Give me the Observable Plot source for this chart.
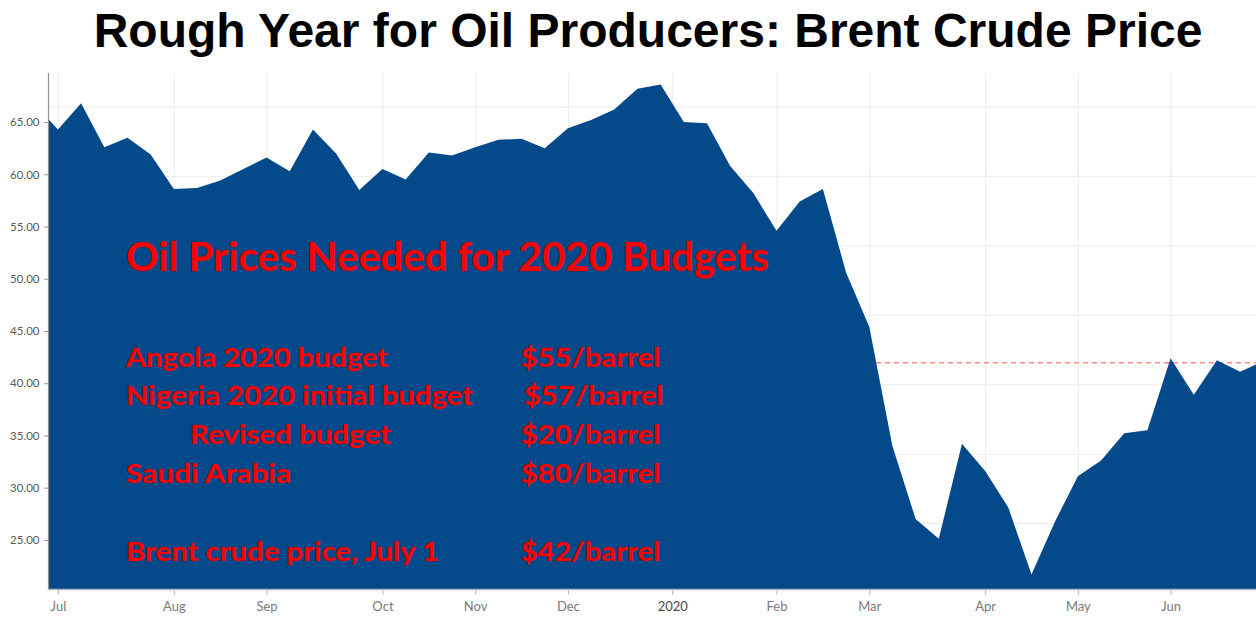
<!DOCTYPE html>
<html>
<head>
<meta charset="utf-8">
<script src="https://cdn.jsdelivr.net/npm/d3@7"></script>
<script src="https://cdn.jsdelivr.net/npm/@observablehq/plot@0.6"></script>
<style>
  html, body { margin: 0; padding: 0; background: #fff; }
  #wrap { position: relative; width: 1256px; height: 622px; overflow: hidden; }
  #title { position: absolute; left: 0; top: 7px; width: 1256px; padding-left: 40px; box-sizing: border-box;
           text-align: center; font: bold 48px/48px "Liberation Sans", Arial, sans-serif; color: #000; white-space: nowrap; }
  #chart { position: absolute; left: 0; top: 62px; }
</style>
</head>
<body>
<div id="wrap">
  <div id="title">Rough Year for Oil Producers: Brent Crude Price</div>
  <div id="chart"></div>
</div>
<script>
// ---- data ----
const weekDates = [
  "2019-06-24","2019-07-01","2019-07-08","2019-07-15","2019-07-22","2019-07-29",
  "2019-08-05","2019-08-12","2019-08-19","2019-08-26","2019-09-02","2019-09-09",
  "2019-09-16","2019-09-23","2019-09-30","2019-10-07","2019-10-14","2019-10-21",
  "2019-10-28","2019-11-04","2019-11-11","2019-11-18","2019-11-25","2019-12-02",
  "2019-12-09","2019-12-16","2019-12-23","2019-12-30","2020-01-06","2020-01-13",
  "2020-01-20","2020-01-27","2020-02-03","2020-02-10","2020-02-17","2020-02-24",
  "2020-03-02","2020-03-09","2020-03-16","2020-03-23","2020-03-30","2020-04-06",
  "2020-04-13","2020-04-20","2020-04-27","2020-05-04","2020-05-11","2020-05-18",
  "2020-05-25","2020-06-01","2020-06-08","2020-06-15","2020-06-22","2020-06-29"
];
const brentPrice = [
  66.7, 64.3, 66.8, 62.6, 63.5, 61.9,
  58.6, 58.7, 59.4, 60.5, 61.6, 60.3,
  64.3, 62.0, 58.5, 60.5, 59.5, 62.1,
  61.8, 62.6, 63.3, 63.4, 62.5, 64.4,
  65.2, 66.2, 68.2, 68.6, 65.0, 64.9,
  60.8, 58.2, 54.6, 57.4, 58.6, 50.6,
  45.4, 34.0, 27.0, 25.1, 34.2, 31.6,
  28.1, 21.7, 26.7, 31.1, 32.6, 35.2,
  35.5, 42.4, 38.9, 42.2, 41.1, 42.1
];
const xTickDates = ["2019-07-01","2019-08-05","2019-09-02","2019-10-07","2019-11-04","2019-12-02",
                    "2020-01-02T12:00","2020-02-03","2020-03-02","2020-04-06","2020-05-04","2020-06-01"];
const xTickLabels = ["Jul","Aug","Sep","Oct","Nov","Dec","2020","Feb","Mar","Apr","May","Jun"];
const yTicks = [25, 30, 35, 40, 45, 50, 55, 60, 65];
const yGridLines = [26.6, 33.25, 39.9, 46.55, 53.2, 59.85, 66.5];
const xDomain = ["2019-06-28", "2020-06-26T19:00"];
const yDomain = [20.3, 69.7];
const julyPrice = 42;

const heading = "Oil Prices Needed for 2020 Budgets";
const budgetNames = ["Angola 2020 budget", "Nigeria 2020 initial budget", "Revised budget", "Saudi Arabia", "Brent crude price, July 1"];
const budgetPrices = ["$55/barrel", "$57/barrel", "$20/barrel", "$80/barrel", "$42/barrel"];

// ---- build ----
const parse = s => new Date(s + (s.includes("T") ? "Z" : "T00:00Z"));
const data = weekDates.map((d, i) => ({date: parse(d), price: brentPrice[i]}));
const ticks = xTickDates.map(parse);
const labelOf = new Map(ticks.map((t, i) => [+t, xTickLabels[i]]));
const monthTicks = ticks.filter(t => !/^\d{4}$/.test(labelOf.get(+t)));
const yearTicks = ticks.filter(t => /^\d{4}$/.test(labelOf.get(+t)));

const chart = Plot.plot({
  width: 1256,
  height: 560,
  marginLeft: 48,
  marginRight: 0,
  marginTop: 11,
  marginBottom: 33,
  style: {fontFamily: "Lato, 'Open Sans', sans-serif", background: "transparent"},
  x: {type: "utc", domain: xDomain.map(parse), label: null},
  y: {domain: yDomain, label: null},
  marks: [
    Plot.ruleX(ticks, {stroke: "#eeeeee", strokeWidth: 1.2}),
    Plot.ruleY(yGridLines, {stroke: "#eeeeee", strokeWidth: 1.2}),
    Plot.ruleY([julyPrice], {stroke: "#ff4d4d", strokeDasharray: "5,4", strokeWidth: 1}),
    Plot.areaY(data, {x: "date", y: "price", fill: "#044a8b", curve: "linear", clip: true}),
    Plot.ruleX([parse(xDomain[0])], {stroke: "#8f8f8f", strokeWidth: 1.2}),
    Plot.ruleY([yDomain[0]], {stroke: "#b4b8c0", strokeWidth: 1.5}),
    Plot.axisY(yTicks, {label: null, tickSize: 4, tickPadding: 5, tickFormat: d3.format(".2f"), fontSize: 11.5, stroke: "#999", fill: "#5a5a5a"}),
    Plot.axisX(monthTicks, {label: null, tickSize: 6, tickPadding: 6, tickFormat: d => labelOf.get(+d), fontSize: 13, stroke: "#bbb", fill: "#7a7a7a"}),
    Plot.axisX(yearTicks, {label: null, tickSize: 6, tickPadding: 6, tickFormat: d => labelOf.get(+d), fontSize: 13, stroke: "#bbb", fill: "#4a4a4a"})
  ]
});
document.getElementById("chart").appendChild(chart);

// ---- red annotation overlay (layout in pixels of the svg) ----
const svg = d3.select(chart);
const g = svg.append("g")
  .attr("font-family", "Lato, 'Open Sans', sans-serif")
  .attr("font-weight", 700)
  .attr("text-anchor", "start")
  .attr("fill", "#ff0000")
  .attr("stroke", "rgba(120,0,0,0.45)")
  .attr("stroke-width", 0.8)
  .attr("paint-order", "stroke");
g.append("text").attr("x", 126).attr("y", 208.7).attr("font-size", 40)
  .attr("textLength", 643).attr("lengthAdjust", "spacingAndGlyphs").text(heading);
const nameLayout = [
  {x: 126, y: 304.7, w: 262},
  {x: 126, y: 343, w: 347},
  {x: 190, y: 382, w: 201},
  {x: 126, y: 420.7, w: 165},
  {x: 126, y: 498.7, w: 313}
];
const priceLayout = [
  {x: 520.7, y: 304.7}, {x: 524, y: 343}, {x: 520.7, y: 382}, {x: 520.7, y: 420.7}, {x: 520.7, y: 498.7}
];
budgetNames.forEach((t, i) => {
  g.append("text").attr("x", nameLayout[i].x).attr("y", nameLayout[i].y).attr("font-size", 26)
    .attr("textLength", nameLayout[i].w).attr("lengthAdjust", "spacingAndGlyphs").text(t);
});
budgetPrices.forEach((t, i) => {
  g.append("text").attr("x", priceLayout[i].x).attr("y", priceLayout[i].y).attr("font-size", 26)
    .attr("textLength", 139.5).attr("lengthAdjust", "spacingAndGlyphs").text(t);
});
</script>
</body>
</html>
